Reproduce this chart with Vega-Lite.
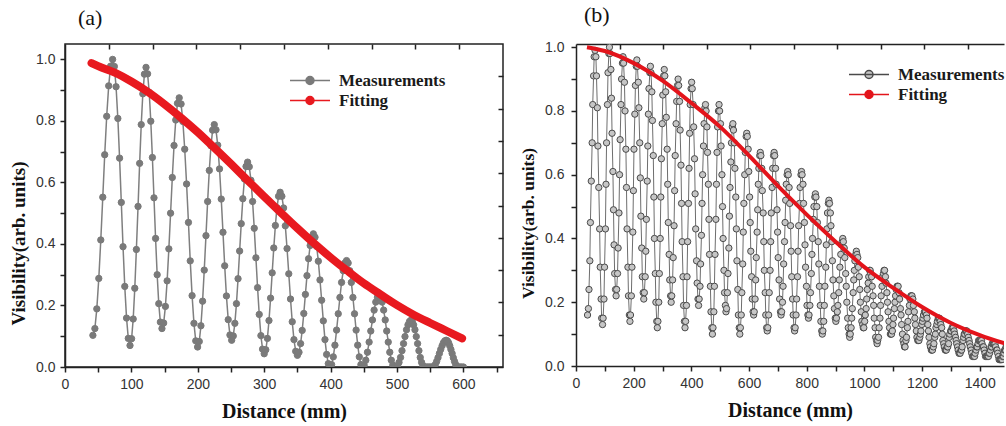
{
"$schema": "https://vega.github.io/schema/vega-lite/v6.json",
"background": "white",
"padding": {"left": 8, "top": 4, "right": 0, "bottom": 0},
"spacing": 14,
"resolve": {"scale": {"fill": "independent", "stroke": "independent"}, "legend": {"fill": "independent", "stroke": "independent"}},
"config": {
  "view": {"stroke": "#222222", "strokeWidth": 1.5},
  "axis": {"grid": false, "domainColor": "#222222", "domainWidth": 1.5, "tickColor": "#222222", "tickWidth": 1.5, "tickSize": 5, "labelFont": "Liberation Sans", "labelFontSize": 14, "labelColor": "#333333", "labelPadding": 5, "labelOverlap": false, "labelFlush": false, "titleFont": "Liberation Serif", "titleFontSize": 20, "titleFontWeight": "bold", "titleColor": "#111111", "titlePadding": 7},
  "title": {"font": "Liberation Serif", "fontSize": 22, "fontWeight": "normal", "color": "#111111", "anchor": "start", "frame": "group", "offset": 13},
  "legend": {"orient": "none", "direction": "vertical", "symbolType": "M-1,0L1,0M0.2,0A0.2,0.2,0,1,1,-0.2,0A0.2,0.2,0,1,1,0.2,0Z", "symbolSize": 1600, "symbolStrokeWidth": 1.5, "labelFont": "Liberation Serif", "labelFontSize": 17, "labelFontWeight": "bold", "labelColor": "#1a1a1a", "labelOffset": 8, "rowPadding": 2, "padding": 0, "clipHeight": 17, "labelLimit": 300}
},
"datasets": {
"measA": [
{"x":42.0,"y":0.103},{"x":45.0,"y":0.125},{"x":47.9,"y":0.189},{"x":50.9,"y":0.288},{"x":53.9,"y":0.413},{"x":56.9,"y":0.552},{"x":59.8,"y":0.690},{"x":62.8,"y":0.815},{"x":65.8,"y":0.914},{"x":68.7,"y":0.978},{"x":71.7,"y":1.000},
{"x":74.3,"y":0.977},{"x":76.9,"y":0.911},{"x":79.6,"y":0.808},{"x":82.2,"y":0.679},{"x":84.8,"y":0.535},{"x":87.4,"y":0.391},{"x":90.0,"y":0.262},{"x":92.7,"y":0.159},{"x":95.3,"y":0.093},{"x":97.9,"y":0.070},
{"x":100.3,"y":0.092},{"x":102.7,"y":0.156},{"x":105.1,"y":0.256},{"x":107.5,"y":0.382},{"x":110.0,"y":0.522},{"x":112.4,"y":0.662},{"x":114.8,"y":0.788},{"x":117.2,"y":0.888},{"x":119.6,"y":0.952},{"x":122.0,"y":0.974},
{"x":124.4,"y":0.953},{"x":126.8,"y":0.893},{"x":129.2,"y":0.799},{"x":131.6,"y":0.681},{"x":134.0,"y":0.550},{"x":136.4,"y":0.418},{"x":138.8,"y":0.300},{"x":141.2,"y":0.206},{"x":143.6,"y":0.146},{"x":146.0,"y":0.125},
{"x":148.6,"y":0.143},{"x":151.2,"y":0.197},{"x":153.8,"y":0.280},{"x":156.4,"y":0.384},{"x":159.0,"y":0.500},{"x":161.6,"y":0.616},{"x":164.2,"y":0.720},{"x":166.8,"y":0.803},{"x":169.4,"y":0.857},{"x":172.0,"y":0.875},
{"x":174.8,"y":0.855},{"x":177.5,"y":0.798},{"x":180.3,"y":0.708},{"x":183.1,"y":0.595},{"x":185.9,"y":0.470},{"x":188.6,"y":0.345},{"x":191.4,"y":0.232},{"x":194.2,"y":0.142},{"x":196.9,"y":0.085},{"x":199.7,"y":0.065},
{"x":202.2,"y":0.083},{"x":204.7,"y":0.134},{"x":207.2,"y":0.214},{"x":209.7,"y":0.315},{"x":212.3,"y":0.427},{"x":214.8,"y":0.538},{"x":217.3,"y":0.639},{"x":219.8,"y":0.719},{"x":222.3,"y":0.770},{"x":224.8,"y":0.788},
{"x":227.4,"y":0.771},{"x":230.0,"y":0.721},{"x":232.7,"y":0.644},{"x":235.3,"y":0.546},{"x":237.9,"y":0.438},{"x":240.5,"y":0.329},{"x":243.1,"y":0.231},{"x":245.8,"y":0.154},{"x":248.4,"y":0.104},{"x":251.0,"y":0.087},
{"x":253.4,"y":0.101},{"x":255.8,"y":0.142},{"x":258.2,"y":0.206},{"x":260.6,"y":0.287},{"x":263.0,"y":0.377},{"x":265.4,"y":0.466},{"x":267.8,"y":0.547},{"x":270.2,"y":0.611},{"x":272.6,"y":0.652},{"x":275.0,"y":0.666},
{"x":277.5,"y":0.651},{"x":280.0,"y":0.607},{"x":282.5,"y":0.538},{"x":285.0,"y":0.451},{"x":287.5,"y":0.355},{"x":290.0,"y":0.258},{"x":292.5,"y":0.171},{"x":295.0,"y":0.102},{"x":297.5,"y":0.058},{"x":300.0,"y":0.043},
{"x":302.4,"y":0.056},{"x":304.8,"y":0.093},{"x":307.2,"y":0.151},{"x":309.6,"y":0.224},{"x":312.0,"y":0.306},{"x":314.4,"y":0.387},{"x":316.8,"y":0.460},{"x":319.2,"y":0.518},{"x":321.6,"y":0.555},{"x":324.0,"y":0.568},
{"x":326.6,"y":0.555},{"x":329.2,"y":0.517},{"x":331.8,"y":0.459},{"x":334.4,"y":0.385},{"x":337.0,"y":0.303},{"x":339.6,"y":0.221},{"x":342.2,"y":0.147},{"x":344.8,"y":0.089},{"x":347.4,"y":0.051},{"x":350.0,"y":0.038},
{"x":352.4,"y":0.048},{"x":354.8,"y":0.076},{"x":357.2,"y":0.119},{"x":359.6,"y":0.174},{"x":362.0,"y":0.236},{"x":364.4,"y":0.297},{"x":366.8,"y":0.352},{"x":369.2,"y":0.395},{"x":371.6,"y":0.423},{"x":374.0,"y":0.433},
{"x":376.5,"y":0.422},{"x":379.0,"y":0.392},{"x":381.5,"y":0.344},{"x":384.0,"y":0.283},{"x":386.5,"y":0.217},{"x":389.0,"y":0.150},{"x":391.5,"y":0.089},{"x":394.0,"y":0.041},{"x":396.5,"y":0.011},{"x":399.0,"y":0.000},
{"x":401.5,"y":0.008},{"x":404.0,"y":0.033},{"x":406.5,"y":0.071},{"x":409.0,"y":0.120},{"x":411.5,"y":0.173},{"x":414.0,"y":0.226},{"x":416.5,"y":0.275},{"x":419.0,"y":0.313},{"x":421.5,"y":0.338},{"x":424.0,"y":0.346},
{"x":426.4,"y":0.338},{"x":428.8,"y":0.313},{"x":431.2,"y":0.275},{"x":433.6,"y":0.226},{"x":436.0,"y":0.173},{"x":438.4,"y":0.120},{"x":440.8,"y":0.071},{"x":443.2,"y":0.033},{"x":445.6,"y":0.008},{"x":448.0,"y":0.000},
{"x":450.5,"y":0.006},{"x":453.0,"y":0.022},{"x":455.5,"y":0.048},{"x":458.0,"y":0.081},{"x":460.5,"y":0.117},{"x":463.0,"y":0.153},{"x":465.5,"y":0.185},{"x":468.0,"y":0.211},{"x":470.5,"y":0.227},{"x":473.0,"y":0.233},
{"x":475.3,"y":0.227},{"x":477.6,"y":0.211},{"x":479.9,"y":0.185},{"x":482.2,"y":0.153},{"x":484.5,"y":0.117},{"x":486.8,"y":0.081},{"x":489.1,"y":0.048},{"x":491.4,"y":0.022},{"x":493.7,"y":0.006},{"x":496.0,"y":0.000},{"x":498.5,"y":0.000},
{"x":500.8,"y":0.004},{"x":503.0,"y":0.015},{"x":505.3,"y":0.031},{"x":507.5,"y":0.053},{"x":509.8,"y":0.076},{"x":512.0,"y":0.099},{"x":514.3,"y":0.121},{"x":516.5,"y":0.137},{"x":518.8,"y":0.148},{"x":521.0,"y":0.152},
{"x":523.0,"y":0.148},{"x":525.0,"y":0.137},{"x":527.0,"y":0.121},{"x":529.0,"y":0.099},{"x":531.0,"y":0.076},{"x":533.0,"y":0.053},{"x":535.0,"y":0.031},{"x":537.0,"y":0.015},{"x":539.0,"y":0.004},{"x":541.0,"y":0.000},
{"x":543.5,"y":0.000},{"x":546.0,"y":0.000},{"x":548.5,"y":0.000},{"x":551.0,"y":0.000},{"x":553.5,"y":0.000},
{"x":555.6,"y":0.002},{"x":557.6,"y":0.008},{"x":559.7,"y":0.018},{"x":561.7,"y":0.030},{"x":563.8,"y":0.044},{"x":565.8,"y":0.057},{"x":567.9,"y":0.069},{"x":569.9,"y":0.079},{"x":572.0,"y":0.085},{"x":574.0,"y":0.087},
{"x":575.8,"y":0.085},{"x":577.6,"y":0.079},{"x":579.4,"y":0.069},{"x":581.2,"y":0.057},{"x":583.0,"y":0.044},{"x":584.8,"y":0.030},{"x":586.6,"y":0.018},{"x":588.4,"y":0.008},{"x":590.2,"y":0.002},{"x":592.0,"y":0.000},{"x":594.5,"y":0.000},{"x":597.0,"y":0.000},{"x":600.0,"y":0.000}
],
"fitA": [
{"x":40,"y":0.988},{"x":50,"y":0.978},{"x":75,"y":0.957},{"x":100,"y":0.928},{"x":125,"y":0.894},{"x":150,"y":0.854},{"x":175,"y":0.810},{"x":200,"y":0.763},{"x":225,"y":0.712},{"x":250,"y":0.660},{"x":275,"y":0.607},{"x":300,"y":0.554},{"x":325,"y":0.502},{"x":350,"y":0.451},{"x":375,"y":0.402},{"x":400,"y":0.356},{"x":425,"y":0.313},{"x":450,"y":0.272},{"x":475,"y":0.236},{"x":500,"y":0.201},{"x":525,"y":0.170},{"x":550,"y":0.143},{"x":575,"y":0.117},{"x":598,"y":0.093}
],
"measB": [
{"x":40,"y":0.16},{"x":43,"y":0.18},{"x":45,"y":0.24},{"x":48,"y":0.33},{"x":50,"y":0.45},{"x":53,"y":0.58},{"x":56,"y":0.70},{"x":58,"y":0.82},{"x":61,"y":0.91},{"x":63,"y":0.97},{"x":66,"y":0.99},
{"x":69,"y":0.97},{"x":71,"y":0.91},{"x":74,"y":0.81},{"x":76,"y":0.69},{"x":79,"y":0.56},{"x":82,"y":0.43},{"x":84,"y":0.31},{"x":87,"y":0.21},{"x":89,"y":0.15},{"x":92,"y":0.13},
{"x":94,"y":0.15},{"x":97,"y":0.21},{"x":99,"y":0.31},{"x":102,"y":0.43},{"x":104,"y":0.57},{"x":106,"y":0.70},{"x":109,"y":0.82},{"x":111,"y":0.92},{"x":114,"y":0.98},{"x":116,"y":1.0},
{"x":118,"y":0.98},{"x":121,"y":0.93},{"x":123,"y":0.84},{"x":125,"y":0.73},{"x":128,"y":0.61},{"x":130,"y":0.49},{"x":132,"y":0.38},{"x":134,"y":0.29},{"x":137,"y":0.24},{"x":139,"y":0.22},
{"x":141,"y":0.24},{"x":144,"y":0.29},{"x":146,"y":0.37},{"x":149,"y":0.48},{"x":151,"y":0.60},{"x":153,"y":0.71},{"x":156,"y":0.82},{"x":158,"y":0.90},{"x":161,"y":0.95},{"x":163,"y":0.97},
{"x":165,"y":0.95},{"x":168,"y":0.89},{"x":170,"y":0.80},{"x":173,"y":0.68},{"x":175,"y":0.56},{"x":177,"y":0.43},{"x":180,"y":0.31},{"x":182,"y":0.22},{"x":185,"y":0.16},{"x":187,"y":0.14},
{"x":189,"y":0.16},{"x":192,"y":0.22},{"x":194,"y":0.31},{"x":197,"y":0.42},{"x":199,"y":0.55},{"x":201,"y":0.68},{"x":204,"y":0.79},{"x":206,"y":0.88},{"x":209,"y":0.94},{"x":211,"y":0.96},
{"x":213,"y":0.94},{"x":216,"y":0.89},{"x":218,"y":0.81},{"x":221,"y":0.70},{"x":223,"y":0.59},{"x":225,"y":0.47},{"x":228,"y":0.37},{"x":230,"y":0.28},{"x":233,"y":0.23},{"x":235,"y":0.21},
{"x":237,"y":0.23},{"x":240,"y":0.28},{"x":242,"y":0.36},{"x":244,"y":0.46},{"x":247,"y":0.58},{"x":249,"y":0.69},{"x":251,"y":0.79},{"x":253,"y":0.87},{"x":256,"y":0.92},{"x":258,"y":0.94},
{"x":260,"y":0.92},{"x":263,"y":0.86},{"x":265,"y":0.77},{"x":268,"y":0.66},{"x":270,"y":0.53},{"x":272,"y":0.40},{"x":275,"y":0.29},{"x":277,"y":0.20},{"x":280,"y":0.14},{"x":282,"y":0.12},
{"x":284,"y":0.14},{"x":287,"y":0.20},{"x":289,"y":0.29},{"x":292,"y":0.40},{"x":294,"y":0.53},{"x":296,"y":0.65},{"x":299,"y":0.76},{"x":301,"y":0.85},{"x":304,"y":0.91},{"x":306,"y":0.93},
{"x":308,"y":0.91},{"x":311,"y":0.86},{"x":313,"y":0.78},{"x":316,"y":0.68},{"x":318,"y":0.57},{"x":320,"y":0.45},{"x":323,"y":0.35},{"x":325,"y":0.27},{"x":328,"y":0.22},{"x":330,"y":0.20},
{"x":332,"y":0.22},{"x":335,"y":0.27},{"x":337,"y":0.34},{"x":340,"y":0.44},{"x":342,"y":0.55},{"x":344,"y":0.66},{"x":347,"y":0.76},{"x":349,"y":0.83},{"x":352,"y":0.88},{"x":354,"y":0.90},
{"x":356,"y":0.88},{"x":359,"y":0.83},{"x":361,"y":0.74},{"x":364,"y":0.63},{"x":366,"y":0.51},{"x":368,"y":0.39},{"x":371,"y":0.28},{"x":373,"y":0.19},{"x":376,"y":0.14},{"x":378,"y":0.12},
{"x":380,"y":0.14},{"x":383,"y":0.19},{"x":385,"y":0.28},{"x":387,"y":0.39},{"x":390,"y":0.51},{"x":392,"y":0.62},{"x":394,"y":0.73},{"x":396,"y":0.82},{"x":399,"y":0.87},{"x":401,"y":0.89},
{"x":403,"y":0.87},{"x":406,"y":0.82},{"x":408,"y":0.75},{"x":411,"y":0.65},{"x":413,"y":0.54},{"x":415,"y":0.43},{"x":418,"y":0.33},{"x":420,"y":0.26},{"x":423,"y":0.21},{"x":425,"y":0.19},
{"x":427,"y":0.21},{"x":430,"y":0.25},{"x":432,"y":0.32},{"x":435,"y":0.41},{"x":437,"y":0.51},{"x":439,"y":0.60},{"x":442,"y":0.69},{"x":444,"y":0.76},{"x":447,"y":0.81},{"x":449,"y":0.82},
{"x":451,"y":0.80},{"x":454,"y":0.75},{"x":456,"y":0.67},{"x":459,"y":0.57},{"x":461,"y":0.46},{"x":463,"y":0.35},{"x":466,"y":0.25},{"x":468,"y":0.17},{"x":471,"y":0.12},{"x":473,"y":0.10},
{"x":475,"y":0.12},{"x":478,"y":0.17},{"x":480,"y":0.25},{"x":482,"y":0.35},{"x":485,"y":0.46},{"x":487,"y":0.57},{"x":489,"y":0.67},{"x":491,"y":0.75},{"x":494,"y":0.80},{"x":496,"y":0.82},
{"x":498,"y":0.80},{"x":501,"y":0.76},{"x":503,"y":0.69},{"x":506,"y":0.60},{"x":508,"y":0.50},{"x":510,"y":0.40},{"x":513,"y":0.30},{"x":515,"y":0.23},{"x":518,"y":0.19},{"x":520,"y":0.17},
{"x":522,"y":0.18},{"x":525,"y":0.23},{"x":527,"y":0.29},{"x":530,"y":0.37},{"x":532,"y":0.47},{"x":534,"y":0.56},{"x":537,"y":0.64},{"x":539,"y":0.70},{"x":542,"y":0.75},{"x":544,"y":0.76},
{"x":546,"y":0.74},{"x":549,"y":0.70},{"x":551,"y":0.62},{"x":554,"y":0.53},{"x":556,"y":0.43},{"x":558,"y":0.33},{"x":561,"y":0.24},{"x":563,"y":0.16},{"x":566,"y":0.12},{"x":568,"y":0.10},
{"x":570,"y":0.12},{"x":573,"y":0.16},{"x":575,"y":0.23},{"x":578,"y":0.32},{"x":580,"y":0.42},{"x":582,"y":0.51},{"x":585,"y":0.60},{"x":587,"y":0.67},{"x":590,"y":0.72},{"x":592,"y":0.73},
{"x":594,"y":0.72},{"x":597,"y":0.68},{"x":599,"y":0.61},{"x":602,"y":0.53},{"x":604,"y":0.45},{"x":606,"y":0.36},{"x":609,"y":0.28},{"x":611,"y":0.21},{"x":614,"y":0.17},{"x":616,"y":0.16},
{"x":618,"y":0.17},{"x":621,"y":0.21},{"x":623,"y":0.27},{"x":625,"y":0.34},{"x":628,"y":0.42},{"x":630,"y":0.49},{"x":632,"y":0.57},{"x":634,"y":0.62},{"x":637,"y":0.66},{"x":639,"y":0.67},
{"x":641,"y":0.66},{"x":644,"y":0.62},{"x":646,"y":0.55},{"x":649,"y":0.48},{"x":651,"y":0.39},{"x":653,"y":0.30},{"x":656,"y":0.23},{"x":658,"y":0.16},{"x":661,"y":0.12},{"x":663,"y":0.11},
{"x":665,"y":0.12},{"x":668,"y":0.16},{"x":670,"y":0.23},{"x":673,"y":0.30},{"x":675,"y":0.39},{"x":677,"y":0.48},{"x":680,"y":0.56},{"x":682,"y":0.62},{"x":685,"y":0.66},{"x":687,"y":0.67},
{"x":689,"y":0.66},{"x":692,"y":0.62},{"x":694,"y":0.57},{"x":697,"y":0.49},{"x":699,"y":0.42},{"x":701,"y":0.34},{"x":704,"y":0.27},{"x":706,"y":0.21},{"x":709,"y":0.17},{"x":711,"y":0.16},
{"x":713,"y":0.17},{"x":716,"y":0.20},{"x":718,"y":0.25},{"x":720,"y":0.32},{"x":723,"y":0.39},{"x":725,"y":0.45},{"x":727,"y":0.52},{"x":729,"y":0.57},{"x":732,"y":0.60},{"x":734,"y":0.61},
{"x":736,"y":0.60},{"x":739,"y":0.56},{"x":741,"y":0.51},{"x":744,"y":0.44},{"x":746,"y":0.36},{"x":748,"y":0.28},{"x":751,"y":0.21},{"x":753,"y":0.16},{"x":756,"y":0.12},{"x":758,"y":0.11},
{"x":760,"y":0.12},{"x":763,"y":0.16},{"x":765,"y":0.21},{"x":768,"y":0.28},{"x":770,"y":0.36},{"x":772,"y":0.44},{"x":775,"y":0.51},{"x":777,"y":0.56},{"x":780,"y":0.60},{"x":782,"y":0.61},
{"x":784,"y":0.60},{"x":787,"y":0.57},{"x":789,"y":0.51},{"x":792,"y":0.45},{"x":794,"y":0.38},{"x":796,"y":0.31},{"x":799,"y":0.25},{"x":801,"y":0.19},{"x":804,"y":0.16},{"x":806,"y":0.15},
{"x":808,"y":0.16},{"x":811,"y":0.19},{"x":813,"y":0.23},{"x":816,"y":0.29},{"x":818,"y":0.35},{"x":820,"y":0.40},{"x":823,"y":0.46},{"x":825,"y":0.50},{"x":828,"y":0.53},{"x":830,"y":0.54},
{"x":832,"y":0.53},{"x":835,"y":0.50},{"x":837,"y":0.45},{"x":840,"y":0.39},{"x":842,"y":0.32},{"x":844,"y":0.25},{"x":847,"y":0.19},{"x":849,"y":0.14},{"x":852,"y":0.11},{"x":854,"y":0.10},
{"x":856,"y":0.11},{"x":859,"y":0.14},{"x":861,"y":0.19},{"x":863,"y":0.25},{"x":866,"y":0.31},{"x":868,"y":0.38},{"x":870,"y":0.43},{"x":872,"y":0.48},{"x":875,"y":0.51},{"x":877,"y":0.52},
{"x":879,"y":0.51},{"x":882,"y":0.48},{"x":884,"y":0.44},{"x":887,"y":0.39},{"x":889,"y":0.33},{"x":891,"y":0.27},{"x":894,"y":0.22},{"x":896,"y":0.18},{"x":899,"y":0.15},{"x":901,"y":0.14},
{"x":903,"y":0.15},{"x":906,"y":0.17},{"x":908,"y":0.19},{"x":911,"y":0.23},{"x":913,"y":0.27},{"x":915,"y":0.31},{"x":918,"y":0.35},{"x":920,"y":0.38},{"x":923,"y":0.39},{"x":925,"y":0.40},
{"x":927,"y":0.39},{"x":930,"y":0.37},{"x":932,"y":0.34},{"x":935,"y":0.29},{"x":937,"y":0.25},{"x":939,"y":0.20},{"x":942,"y":0.15},{"x":944,"y":0.12},{"x":947,"y":0.10},{"x":949,"y":0.09},
{"x":951,"y":0.10},{"x":954,"y":0.12},{"x":956,"y":0.15},{"x":958,"y":0.18},{"x":961,"y":0.23},{"x":963,"y":0.27},{"x":965,"y":0.30},{"x":967,"y":0.33},{"x":970,"y":0.35},{"x":972,"y":0.36},
{"x":974,"y":0.35},{"x":977,"y":0.34},{"x":979,"y":0.31},{"x":982,"y":0.28},{"x":984,"y":0.24},{"x":986,"y":0.20},{"x":989,"y":0.17},{"x":991,"y":0.14},{"x":994,"y":0.13},{"x":996,"y":0.12},
{"x":998,"y":0.12},{"x":1001,"y":0.14},{"x":1003,"y":0.16},{"x":1006,"y":0.18},{"x":1008,"y":0.21},{"x":1010,"y":0.24},{"x":1013,"y":0.26},{"x":1015,"y":0.28},{"x":1018,"y":0.30},{"x":1020,"y":0.30},
{"x":1022,"y":0.29},{"x":1025,"y":0.28},{"x":1027,"y":0.25},{"x":1030,"y":0.22},{"x":1032,"y":0.19},{"x":1034,"y":0.15},{"x":1037,"y":0.12},{"x":1039,"y":0.09},{"x":1042,"y":0.08},{"x":1044,"y":0.07},
{"x":1046,"y":0.08},{"x":1049,"y":0.09},{"x":1051,"y":0.12},{"x":1054,"y":0.15},{"x":1056,"y":0.19},{"x":1058,"y":0.22},{"x":1061,"y":0.25},{"x":1063,"y":0.28},{"x":1066,"y":0.29},{"x":1068,"y":0.30},
{"x":1070,"y":0.30},{"x":1073,"y":0.28},{"x":1075,"y":0.26},{"x":1078,"y":0.23},{"x":1080,"y":0.20},{"x":1082,"y":0.17},{"x":1085,"y":0.14},{"x":1087,"y":0.12},{"x":1090,"y":0.10},{"x":1092,"y":0.10},
{"x":1094,"y":0.10},{"x":1097,"y":0.11},{"x":1099,"y":0.13},{"x":1101,"y":0.15},{"x":1104,"y":0.18},{"x":1106,"y":0.20},{"x":1108,"y":0.22},{"x":1110,"y":0.24},{"x":1113,"y":0.25},{"x":1115,"y":0.25},
{"x":1117,"y":0.25},{"x":1120,"y":0.23},{"x":1122,"y":0.21},{"x":1125,"y":0.18},{"x":1127,"y":0.16},{"x":1129,"y":0.13},{"x":1132,"y":0.10},{"x":1134,"y":0.08},{"x":1137,"y":0.07},{"x":1139,"y":0.06},
{"x":1141,"y":0.06},{"x":1144,"y":0.08},{"x":1146,"y":0.09},{"x":1149,"y":0.12},{"x":1151,"y":0.14},{"x":1153,"y":0.17},{"x":1156,"y":0.19},{"x":1158,"y":0.21},{"x":1161,"y":0.22},{"x":1163,"y":0.22},
{"x":1165,"y":0.22},{"x":1168,"y":0.21},{"x":1170,"y":0.19},{"x":1173,"y":0.17},{"x":1175,"y":0.15},{"x":1177,"y":0.13},{"x":1180,"y":0.11},{"x":1182,"y":0.09},{"x":1185,"y":0.08},{"x":1187,"y":0.08},
{"x":1189,"y":0.08},{"x":1192,"y":0.09},{"x":1194,"y":0.10},{"x":1196,"y":0.11},{"x":1199,"y":0.13},{"x":1201,"y":0.14},{"x":1203,"y":0.15},{"x":1205,"y":0.16},{"x":1208,"y":0.17},{"x":1210,"y":0.17},
{"x":1212,"y":0.17},{"x":1215,"y":0.16},{"x":1217,"y":0.15},{"x":1220,"y":0.13},{"x":1222,"y":0.11},{"x":1224,"y":0.09},{"x":1227,"y":0.07},{"x":1229,"y":0.06},{"x":1232,"y":0.05},{"x":1234,"y":0.05},
{"x":1236,"y":0.05},{"x":1239,"y":0.06},{"x":1241,"y":0.07},{"x":1244,"y":0.09},{"x":1246,"y":0.10},{"x":1248,"y":0.12},{"x":1251,"y":0.13},{"x":1253,"y":0.14},{"x":1256,"y":0.15},{"x":1258,"y":0.15},
{"x":1260,"y":0.15},{"x":1263,"y":0.14},{"x":1265,"y":0.13},{"x":1268,"y":0.12},{"x":1270,"y":0.10},{"x":1272,"y":0.08},{"x":1275,"y":0.07},{"x":1277,"y":0.06},{"x":1280,"y":0.05},{"x":1282,"y":0.05},
{"x":1284,"y":0.05},{"x":1287,"y":0.06},{"x":1289,"y":0.06},{"x":1292,"y":0.07},{"x":1294,"y":0.09},{"x":1296,"y":0.10},{"x":1299,"y":0.11},{"x":1301,"y":0.11},{"x":1304,"y":0.12},{"x":1306,"y":0.12},
{"x":1308,"y":0.12},{"x":1311,"y":0.11},{"x":1313,"y":0.10},{"x":1316,"y":0.09},{"x":1318,"y":0.08},{"x":1320,"y":0.07},{"x":1323,"y":0.06},{"x":1325,"y":0.05},{"x":1328,"y":0.04},{"x":1330,"y":0.04},
{"x":1332,"y":0.04},{"x":1335,"y":0.05},{"x":1337,"y":0.05},{"x":1339,"y":0.06},{"x":1342,"y":0.08},{"x":1344,"y":0.09},{"x":1346,"y":0.10},{"x":1348,"y":0.10},{"x":1351,"y":0.11},{"x":1353,"y":0.11},
{"x":1355,"y":0.11},{"x":1358,"y":0.10},{"x":1360,"y":0.09},{"x":1363,"y":0.08},{"x":1365,"y":0.07},{"x":1367,"y":0.06},{"x":1370,"y":0.05},{"x":1372,"y":0.04},{"x":1375,"y":0.03},{"x":1377,"y":0.03},
{"x":1379,"y":0.03},{"x":1382,"y":0.03},{"x":1384,"y":0.04},{"x":1387,"y":0.05},{"x":1389,"y":0.06},{"x":1391,"y":0.06},{"x":1394,"y":0.07},{"x":1396,"y":0.08},{"x":1399,"y":0.08},{"x":1401,"y":0.08},
{"x":1403,"y":0.08},{"x":1406,"y":0.08},{"x":1408,"y":0.07},{"x":1411,"y":0.06},{"x":1413,"y":0.06},{"x":1415,"y":0.05},{"x":1418,"y":0.04},{"x":1420,"y":0.03},{"x":1423,"y":0.03},{"x":1425,"y":0.03},
{"x":1427,"y":0.03},{"x":1430,"y":0.03},{"x":1432,"y":0.04},{"x":1434,"y":0.04},{"x":1437,"y":0.05},{"x":1439,"y":0.06},{"x":1441,"y":0.06},{"x":1443,"y":0.07},{"x":1446,"y":0.07},{"x":1448,"y":0.07},
{"x":1450,"y":0.07},{"x":1453,"y":0.07},{"x":1455,"y":0.06},{"x":1458,"y":0.05},{"x":1460,"y":0.05},{"x":1462,"y":0.04},{"x":1465,"y":0.03},{"x":1467,"y":0.02},{"x":1470,"y":0.02},{"x":1472,"y":0.02},
{"x":1474,"y":0.02},{"x":1477,"y":0.02},{"x":1479,"y":0.03},{"x":1482,"y":0.03},{"x":1484,"y":0.04},{"x":1486,"y":0.05},{"x":1489,"y":0.05},{"x":1491,"y":0.06},{"x":1494,"y":0.06},{"x":1496,"y":0.06}
],
"fitB": [
{"x":38,"y":1.0},{"x":100,"y":0.988},{"x":200,"y":0.95},{"x":300,"y":0.895},{"x":400,"y":0.825},{"x":500,"y":0.75},{"x":600,"y":0.66},{"x":700,"y":0.565},{"x":800,"y":0.475},{"x":900,"y":0.39},{"x":1000,"y":0.31},{"x":1100,"y":0.245},{"x":1200,"y":0.185},{"x":1300,"y":0.135},{"x":1400,"y":0.097},{"x":1500,"y":0.067}
]
},
"hconcat": [
{
  "width": 438, "height": 323,
  "title": {"text": "(a)", "dx": 13},
  "resolve": {"axis": {"x": "independent", "y": "independent"}},
  "layer": [
    {"data": {"name": "measA"}, "mark": {"type": "line", "color": "#7f7f7f", "strokeWidth": 1.5, "clip": true},
     "encoding": {
       "x": {"field": "x", "type": "quantitative", "scale": {"domain": [0, 659.6], "nice": false, "zero": false},
             "axis": {"orient": "bottom", "title": "Distance (mm)", "titlePadding": 10, "values": [0,50,100,150,200,250,300,350,400,450,500,550,600,650], "labelExpr": "datum.value % 100 === 0 ? datum.label : ''"}},
       "y": {"field": "y", "type": "quantitative", "scale": {"domain": [0, 1.05], "nice": false, "zero": false},
             "axis": {"orient": "left", "title": "Visibility(arb. units)", "titleFontSize": 19, "titleY": 199, "values": [0,0.1,0.2,0.3,0.4,0.5,0.6,0.7,0.8,0.9,1.0], "labelExpr": "round(datum.value*10) % 2 === 0 ? format(datum.value, '.1f') : ''"}}
     }},
    {"data": {"name": "measA"}, "mark": {"type": "point", "filled": true, "size": 40, "opacity": 1, "strokeWidth": 1, "clip": true},
     "encoding": {
       "x": {"field": "x", "type": "quantitative", "scale": {"domain": [0, 659.6], "nice": false, "zero": false}, "axis": null},
       "y": {"field": "y", "type": "quantitative", "scale": {"domain": [0, 1.05], "nice": false, "zero": false}, "axis": null},
       "fill": {"datum": "Measurements", "type": "nominal", "scale": {"domain": ["Measurements", "Fitting"], "range": ["#7a7a7a", "#e8191f"]}, "legend": {"title": null, "legendX": 224, "legendY": 28}},
       "stroke": {"datum": "Measurements", "type": "nominal", "scale": {"domain": ["Measurements", "Fitting"], "range": ["#7a7a7a", "#e8191f"]}, "legend": {"title": null, "legendX": 224, "legendY": 28}}
     }},
    {"data": {"name": "fitA"}, "mark": {"type": "line", "strokeWidth": 8, "strokeCap": "round", "interpolate": "monotone", "clip": true},
     "encoding": {
       "x": {"field": "x", "type": "quantitative", "scale": {"domain": [0, 659.6], "nice": false, "zero": false},
             "axis": {"orient": "top", "title": null, "labels": false, "domain": false, "tickSize": -5, "values": [65.96,131.92,197.88,263.84,329.8,395.76,461.72,527.68,593.64]}},
       "y": {"field": "y", "type": "quantitative", "scale": {"domain": [0, 1.05], "nice": false, "zero": false},
             "axis": {"orient": "right", "title": null, "labels": false, "domain": false, "tickSize": -5, "values": [0.105,0.21,0.315,0.42,0.525,0.63,0.735,0.84,0.945]}},
       "stroke": {"datum": "Fitting", "type": "nominal", "scale": {"domain": ["Measurements", "Fitting"], "range": ["#7a7a7a", "#e8191f"]}, "legend": {"title": null, "legendX": 224, "legendY": 28}}
     }}
  ]
},
{
  "width": 428, "height": 322,
  "view": {"stroke": null},
  "title": {"text": "(b)", "dx": 8},
  "resolve": {"axis": {"x": "independent", "y": "independent"}},
  "layer": [
    {"data": {"name": "measB"}, "mark": {"type": "line", "color": "#6e6e6e", "strokeWidth": 1, "clip": true},
     "encoding": {
       "x": {"field": "x", "type": "quantitative", "scale": {"domain": [0, 1484], "nice": false, "zero": false},
             "axis": {"orient": "bottom", "title": "Distance (mm)", "titlePadding": 10, "values": [0,100,200,300,400,500,600,700,800,900,1000,1100,1200,1300,1400], "labelExpr": "datum.value % 200 === 0 ? format(datum.value, 'd') : ''"}},
       "y": {"field": "y", "type": "quantitative", "scale": {"domain": [0, 1.01], "nice": false, "zero": false},
             "axis": {"orient": "left", "title": "Visibility(arb. units)", "titleFontSize": 17.5, "titleY": 179, "labelPadding": 7, "values": [0,0.1,0.2,0.3,0.4,0.5,0.6,0.7,0.8,0.9,1.0], "labelExpr": "round(datum.value*10) % 2 === 0 ? format(datum.value, '.1f') : ''"}}
     }},
    {"data": {"name": "measB"}, "mark": {"type": "point", "filled": true, "size": 40, "opacity": 1, "strokeWidth": 1, "clip": true},
     "encoding": {
       "x": {"field": "x", "type": "quantitative", "scale": {"domain": [0, 1484], "nice": false, "zero": false}, "axis": null},
       "y": {"field": "y", "type": "quantitative", "scale": {"domain": [0, 1.01], "nice": false, "zero": false}, "axis": null},
       "fill": {"datum": "Measurements", "type": "nominal", "scale": {"domain": ["Measurements", "Fitting"], "range": ["#c6c6c6", "#e3141b"]}, "legend": {"title": null, "legendX": 272, "legendY": 22}},
       "stroke": {"datum": "Measurements", "type": "nominal", "scale": {"domain": ["Measurements", "Fitting"], "range": ["#4a4a4a", "#e3141b"]}, "legend": {"title": null, "legendX": 272, "legendY": 22}}
     }},
    {"data": {"name": "fitB"}, "mark": {"type": "line", "strokeWidth": 4, "interpolate": "monotone", "clip": true},
     "encoding": {
       "x": {"field": "x", "type": "quantitative", "scale": {"domain": [0, 1484], "nice": false, "zero": false},
             "axis": {"orient": "top", "title": null, "labels": false, "domain": true, "tickSize": -5, "values": [151,302,453,604,755,906,1057,1208,1359]}},
       "y": {"field": "y", "type": "quantitative", "scale": {"domain": [0, 1.01], "nice": false, "zero": false}, "axis": null},
       "stroke": {"datum": "Fitting", "type": "nominal", "scale": {"domain": ["Measurements", "Fitting"], "range": ["#4a4a4a", "#e3141b"]}, "legend": {"title": null, "legendX": 272, "legendY": 22}}
     }}
  ]
}
]
}
